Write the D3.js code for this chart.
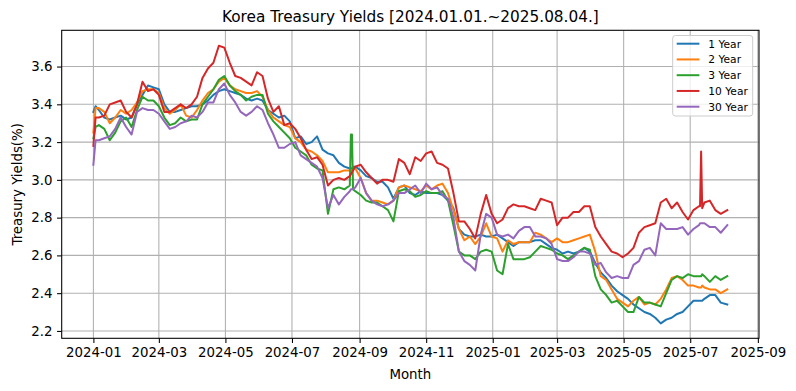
<!DOCTYPE html>
<html><head><meta charset="utf-8">
<script src="https://cdn.jsdelivr.net/npm/d3@7"></script>
<style>body{margin:0;background:#fff}svg{display:block;font-family:"DejaVu Sans",sans-serif}</style>
</head><body><svg id="c" width="796" height="391"></svg>
<script>
// ---- data ----
const dates = ["2024-01-01","2024-01-03","2024-01-06","2024-01-11","2024-01-16","2024-01-21","2024-01-26","2024-01-31","2024-02-05","2024-02-10","2024-02-15",
"2024-02-20","2024-02-25","2024-03-01","2024-03-06","2024-03-11","2024-03-16","2024-03-21","2024-03-26","2024-03-31","2024-04-05",
"2024-04-10","2024-04-15","2024-04-20","2024-04-25","2024-04-30","2024-05-05","2024-05-10","2024-05-15","2024-05-20","2024-05-25",
"2024-05-30","2024-06-04","2024-06-09","2024-06-14","2024-06-19","2024-06-24","2024-06-29","2024-07-04","2024-07-09","2024-07-14",
"2024-07-19","2024-07-24","2024-07-29","2024-08-03","2024-08-08","2024-08-13","2024-08-18","2024-08-23","2024-08-24","2024-08-25","2024-08-26","2024-08-28","2024-09-02",
"2024-09-07","2024-09-12","2024-09-17","2024-09-22","2024-09-27","2024-10-02","2024-10-07","2024-10-12","2024-10-17","2024-10-22",
"2024-10-27","2024-11-01","2024-11-06","2024-11-11","2024-11-16","2024-11-21","2024-11-26","2024-12-01","2024-12-06","2024-12-11",
"2024-12-16","2024-12-21","2024-12-26","2024-12-31","2025-01-05","2025-01-10","2025-01-15","2025-01-20","2025-01-25","2025-01-30",
"2025-02-04","2025-02-09","2025-02-14","2025-02-19","2025-02-24","2025-03-01","2025-03-06","2025-03-11","2025-03-16","2025-03-21",
"2025-03-26","2025-03-31","2025-04-05","2025-04-10","2025-04-15","2025-04-20","2025-04-25","2025-04-30","2025-05-05","2025-05-10",
"2025-05-15","2025-05-20","2025-05-25","2025-05-30","2025-06-04","2025-06-09","2025-06-14","2025-06-19","2025-06-24","2025-06-29",
"2025-07-04","2025-07-09","2025-07-10","2025-07-11","2025-07-12","2025-07-14","2025-07-19","2025-07-24","2025-07-29","2025-08-04"];

const yield1Y = [3.36,3.39,3.37,3.33,3.32,3.33,3.34,3.32,3.33,3.40,3.45,
3.50,3.49,3.48,3.40,3.36,3.36,3.37,3.38,3.39,3.39,
3.40,3.42,3.45,3.47,3.48,3.47,3.46,3.45,3.43,3.42,
3.43,3.42,3.37,3.35,3.33,3.34,3.31,3.22,3.23,3.19,
3.20,3.23,3.16,3.14,3.13,3.09,3.07,3.06,3.06,3.06,3.07,3.07,3.05,
3.02,3.01,2.99,2.99,2.96,2.90,2.96,2.97,2.93,2.92,
2.94,2.93,2.93,2.93,2.92,2.89,2.85,2.74,2.71,2.70,
2.70,2.71,2.70,2.70,2.71,2.69,2.67,2.65,2.67,2.67,
2.67,2.68,2.68,2.66,2.64,2.63,2.61,2.62,2.61,2.62,
2.64,2.62,2.56,2.51,2.48,2.44,2.41,2.39,2.37,2.34,
2.32,2.30,2.29,2.27,2.24,2.26,2.27,2.29,2.30,2.33,
2.36,2.36,2.36,2.36,2.36,2.37,2.39,2.39,2.35,2.34];

const yield2Y = [3.25,3.38,3.38,3.36,3.30,3.33,3.37,3.35,3.37,3.41,3.47,
3.48,3.48,3.46,3.38,3.35,3.37,3.40,3.34,3.33,3.37,
3.42,3.46,3.48,3.52,3.54,3.50,3.48,3.47,3.46,3.46,
3.47,3.44,3.37,3.33,3.31,3.29,3.28,3.22,3.20,3.16,
3.15,3.13,3.10,3.04,3.04,3.04,3.05,3.05,3.05,3.05,3.06,3.06,3.01,
2.93,2.89,2.89,2.88,2.87,2.89,2.96,2.97,2.96,2.95,
2.94,2.97,2.95,2.97,2.98,2.93,2.84,2.74,2.68,2.70,
2.66,2.70,2.77,2.70,2.69,2.62,2.68,2.66,2.67,2.67,
2.67,2.72,2.71,2.69,2.67,2.69,2.67,2.67,2.68,2.69,
2.70,2.71,2.62,2.49,2.47,2.42,2.37,2.35,2.33,2.36,
2.38,2.34,2.35,2.34,2.37,2.42,2.48,2.49,2.47,2.44,
2.44,2.43,2.43,2.43,2.44,2.43,2.42,2.42,2.40,2.42];

const yield3Y = [3.22,3.28,3.29,3.27,3.21,3.25,3.31,3.33,3.28,3.37,3.44,
3.42,3.42,3.39,3.33,3.29,3.30,3.33,3.31,3.32,3.32,
3.40,3.44,3.48,3.53,3.55,3.50,3.47,3.45,3.42,3.44,
3.45,3.45,3.35,3.31,3.28,3.25,3.22,3.17,3.15,3.13,
3.08,3.06,3.05,2.82,2.95,2.96,2.95,2.97,3.24,3.24,2.95,2.94,2.92,
2.89,2.88,2.88,2.86,2.84,2.78,2.94,2.95,2.94,2.91,
2.92,2.94,2.93,2.93,2.94,2.89,2.76,2.62,2.60,2.60,
2.58,2.62,2.63,2.62,2.52,2.50,2.66,2.58,2.58,2.58,
2.59,2.62,2.65,2.64,2.63,2.61,2.60,2.58,2.60,2.62,
2.64,2.63,2.49,2.42,2.39,2.35,2.36,2.33,2.30,2.30,
2.38,2.35,2.35,2.34,2.33,2.40,2.47,2.49,2.48,2.50,
2.49,2.49,2.49,2.49,2.50,2.49,2.46,2.49,2.47,2.49];

const yield10Y = [3.18,3.33,3.33,3.34,3.40,3.41,3.42,3.36,3.33,3.40,3.52,
3.47,3.48,3.45,3.36,3.36,3.38,3.40,3.38,3.40,3.44,
3.54,3.59,3.62,3.71,3.70,3.62,3.55,3.54,3.52,3.50,
3.57,3.55,3.43,3.36,3.39,3.29,3.30,3.27,3.22,3.16,
3.11,3.12,3.08,2.97,3.00,3.01,3.00,3.02,3.03,3.04,3.05,3.07,3.08,
3.04,3.01,2.98,3.00,3.00,2.99,3.11,3.09,3.03,3.12,
3.10,3.14,3.15,3.09,3.08,3.06,2.93,2.78,2.78,2.74,
2.69,2.82,2.92,2.82,2.77,2.79,2.85,2.87,2.86,2.86,
2.85,2.84,2.90,2.89,2.88,2.76,2.80,2.80,2.83,2.83,
2.86,2.86,2.75,2.70,2.66,2.62,2.61,2.59,2.61,2.64,
2.72,2.75,2.76,2.77,2.88,2.90,2.85,2.88,2.83,2.79,
2.84,2.86,2.86,3.15,2.85,2.88,2.89,2.84,2.82,2.84];

const yield30Y = [3.08,3.21,3.21,3.22,3.23,3.27,3.33,3.28,3.24,3.36,3.38,
3.37,3.37,3.35,3.31,3.27,3.28,3.30,3.31,3.34,3.33,
3.36,3.41,3.41,3.48,3.51,3.45,3.41,3.36,3.34,3.36,
3.39,3.37,3.30,3.24,3.17,3.17,3.19,3.20,3.13,3.11,
3.09,3.07,3.01,2.85,2.92,2.87,2.91,2.94,2.95,2.95,2.95,2.96,3.01,
2.93,2.89,2.87,2.86,2.87,2.89,2.93,2.93,2.95,2.97,
2.93,2.98,2.95,2.96,2.92,2.90,2.80,2.62,2.57,2.55,
2.52,2.71,2.82,2.80,2.71,2.70,2.71,2.69,2.73,2.75,
2.75,2.70,2.70,2.69,2.66,2.58,2.57,2.57,2.59,2.62,
2.62,2.61,2.55,2.56,2.51,2.48,2.49,2.48,2.48,2.55,
2.57,2.63,2.64,2.60,2.77,2.74,2.74,2.74,2.75,2.71,
2.74,2.76,2.77,2.77,2.77,2.77,2.75,2.75,2.72,2.76];

const seriesNames = ["1 Year","2 Year","3 Year","10 Year","30 Year"];
const seriesColors = ["#1f77b4","#ff7f0e","#2ca02c","#d62728","#9467bd"];
const yTickValues = [2.2,2.4,2.6,2.8,3.0,3.2,3.4,3.6];
const xTickLabels = ["2024-01","2024-03","2024-05","2024-07","2024-09","2024-11","2025-01","2025-03","2025-05","2025-07","2025-09"];
const yDomain = [2.161, 3.792];
const titleText = "Korea Treasury Yields [2024.01.01.~2025.08.04.]";

// ---- drawing ----
const svg = d3.select("#c");
const M = {left:61.7, right:759, top:30.3, bottom:338.3};
const parse = d3.utcParse("%Y-%m-%d");
const xDates = dates.map(parse);
const ext = d3.extent(xDates);
const pad = (ext[1]-ext[0])*0.05;
const x = d3.scaleUtc().domain([new Date(+ext[0]-pad), new Date(+ext[1]+pad)]).range([M.left, M.right]);
const y = d3.scaleLinear().domain(yDomain).range([M.bottom, M.top]);
const xTicks = xTickLabels.map(d3.utcParse("%Y-%m"));

svg.append("rect").attr("width",796).attr("height",391).attr("fill","#fff");

// grid
const g = svg.append("g");
g.selectAll(".gx").data(xTicks).join("line")
  .attr("x1",d=>x(d)).attr("x2",d=>x(d)).attr("y1",M.top).attr("y2",M.bottom)
  .attr("stroke","#b0b0b0").attr("stroke-width",1.07);
g.selectAll(".gy").data(yTickValues).join("line")
  .attr("x1",M.left).attr("x2",M.right).attr("y1",d=>y(d)).attr("y2",d=>y(d))
  .attr("stroke","#b0b0b0").attr("stroke-width",1.07);

// lines
const allSeries = [yield1Y, yield2Y, yield3Y, yield10Y, yield30Y];
const line = d3.line().x((d,i)=>x(xDates[i])).y(d=>y(d));
allSeries.forEach((s,k)=>{
  svg.append("path").attr("d", line(s)).attr("fill","none")
    .attr("stroke", seriesColors[k]).attr("stroke-width",2)
    .attr("stroke-linejoin","round").attr("stroke-linecap","square");
});

// axes
const fs = 13.33;
const xAxis = d3.axisBottom(x).tickValues(xTicks).tickFormat(d3.utcFormat("%Y-%m"))
  .tickSize(4.67).tickPadding(4.4).tickSizeOuter(0);
const ax = svg.append("g").attr("transform",`translate(0,${M.bottom})`).call(xAxis);
const yAxis = d3.axisLeft(y).tickValues(yTickValues).tickFormat(d3.format(".1f"))
  .tickSize(4.67).tickPadding(4.67).tickSizeOuter(0);
const ay = svg.append("g").attr("transform",`translate(${M.left},0)`).call(yAxis);
[ax,ay].forEach(a=>{
  a.select(".domain").remove();
  a.selectAll(".tick line").attr("stroke","#000").attr("stroke-width",1.07);
  a.selectAll(".tick text").attr("fill","#000").style("font-size",fs+"px").style("font-family","DejaVu Sans");
});

// spines
svg.append("rect").attr("x",M.left).attr("y",M.top)
  .attr("width",M.right-M.left).attr("height",M.bottom-M.top)
  .attr("fill","none").attr("stroke","#000").attr("stroke-width",1.07);

// title & labels
svg.append("text").attr("x",(M.left+M.right)/2).attr("y",22).attr("text-anchor","middle")
  .style("font-size","15.3px").attr("fill","#000").text(titleText);
svg.append("text").attr("x",(M.left+M.right)/2).attr("y",379).attr("text-anchor","middle")
  .style("font-size",fs+"px").attr("fill","#000").text("Month");
svg.append("text").attr("transform",`translate(22,${(M.top+M.bottom)/2}) rotate(-90)`)
  .attr("text-anchor","middle").style("font-size",fs+"px").attr("fill","#000").text("Treasury Yields(%)");

// legend
const lg = svg.append("g");
const lx = 672.7, ly = 35.5, lw = 80, rowH = 15.75;
lg.append("rect").attr("x",lx).attr("y",ly).attr("width",lw).attr("height",80.5)
  .attr("rx",2.7).attr("fill","#fff").attr("fill-opacity",0.8).attr("stroke","#cccccc").attr("stroke-width",1);
seriesNames.forEach((n,i)=>{
  const cy = ly + 8.2 + i*rowH;
  lg.append("line").attr("x1",lx+4).attr("x2",lx+26.7).attr("y1",cy).attr("y2",cy)
    .attr("stroke",seriesColors[i]).attr("stroke-width",2);
  lg.append("text").attr("x",lx+35.6).attr("y",cy+3.8).style("font-size","10.67px").attr("fill","#000").text(n);
});
</script></body></html>
